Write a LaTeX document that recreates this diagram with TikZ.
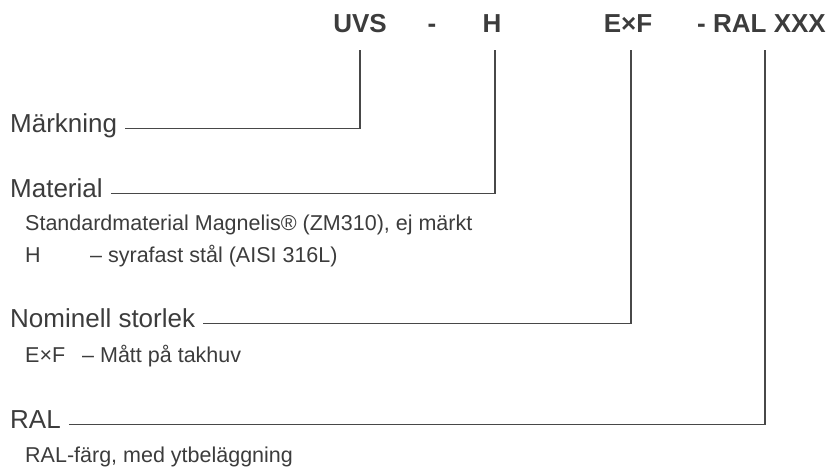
\documentclass[tikz,border=0pt]{standalone}
\usepackage{fontspec}
\setmainfont{Liberation Sans}
\definecolor{textgray}{HTML}{3C3C3C}
\definecolor{linegray}{HTML}{484848}
\tikzset{
  header/.style={font=\fontsize{26}{30}\selectfont\bfseries, text=textgray, inner sep=0pt, anchor=base},
  label/.style={font=\fontsize{26}{30}\selectfont, text=textgray, inner sep=0pt, anchor=base west,
                text height=0.75em, text depth=0.05em},
  sub/.style={font=\fontsize{21.5}{26}\selectfont, text=textgray, inner sep=0pt, anchor=base west},
  leader/.style={draw=linegray, line width=1.5pt}
}
\begin{document}
\begin{tikzpicture}[x=1pt, y=-1pt]
\useasboundingbox (0,0) rectangle (829,468);

% Beteckning
\node[header] (uvs) at (360,33) {UVS};
\node[header] (dash) at (432,33) {-};
\node[header] (h) at (492,33) {H};
\node[header] (exf) at (628,33) {E×F};
\node[header, anchor=base east] (ral) at (826,33) {- RAL XXX};

% Ovre ändar
\coordinate (uvstop) at (360,50);
\coordinate (htop) at (495,50);
\coordinate (exftop) at (631,50);
\coordinate (raltop) at (765,50);

% Märkning
\node[label] (mark) at (10,132) {Märkning};
\draw[leader] ([xshift=8pt]mark.east) -- (mark.east -| uvstop) -- (uvstop);

% Material
\node[label] (mat) at (10,197) {Material};
\draw[leader] ([xshift=8pt]mat.east) -- (mat.east -| htop) -- (htop);
\node[sub] (std) at (25,230) {Standardmaterial Magnelis® (ZM310), ej märkt};
\node[sub] (syra) at (25,262) {\makebox[65pt][l]{H}– syrafast stål (AISI 316L)};

% Nominell storlek
\node[label] (nom) at (10,327) {Nominell storlek};
\draw[leader] ([xshift=8pt]nom.east) -- (nom.east -| exftop) -- (exftop);
\node[sub] (matt) at (25,362) {\makebox[57pt][l]{E×F}– Mått på takhuv};

% RAL
\node[label] (ralt) at (10,428) {RAL};
\draw[leader] ([xshift=8pt]ralt.east) -- (ralt.east -| raltop) -- (raltop);
\node[sub] (farg) at (25,462) {RAL-färg, med ytbeläggning};

\end{tikzpicture}
\end{document}
